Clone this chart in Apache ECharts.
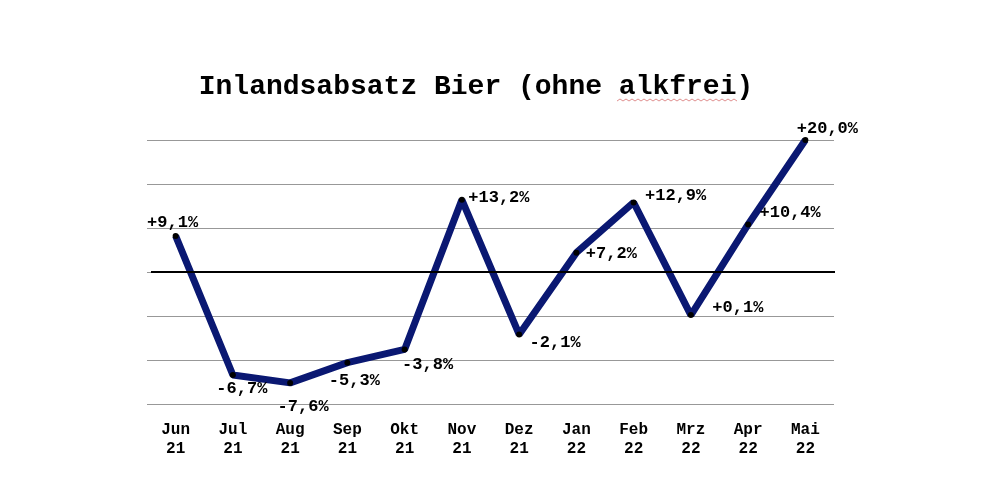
<!DOCTYPE html>
<html>
<head>
<meta charset="utf-8">
<script src="https://cdn.jsdelivr.net/npm/echarts@6/dist/echarts.min.js"></script>
<style>
html,body{margin:0;padding:0;background:#fff;}
#main{width:1000px;height:501px;}
</style>
</head>
<body>
<div id="main"></div>
<script>
// Monate und Veränderung zum Vorjahresmonat in %
var months = ['Jun\n21','Jul\n21','Aug\n21','Sep\n21','Okt\n21','Nov\n21','Dez\n21','Jan\n22','Feb\n22','Mrz\n22','Apr\n22','Mai\n22'];
var changes = [9.1, -6.7, -7.6, -5.3, -3.8, 13.2, -2.1, 7.2, 12.9, 0.1, 10.4, 20.0];
var labelTexts = ['+9,1%','-6,7%','-7,6%','-5,3%','-3,8%','+13,2%','-2,1%','+7,2%','+12,9%','+0,1%','+10,4%','+20,0%'];
// Versatz der Beschriftung (Pixel) relativ zum Punkt
var labelOffsets = [[-3,-13],[9,14],[13,24],[7,18],[23,15],[37,-2],[36,8],[35,1],[42,-7],[47,-7],[42,-12],[22,-11]];

var monoFont = '"Liberation Mono", "Courier New", monospace';

var seriesData = changes.map(function(v, i) {
    return {
        value: v,
        label: { offset: labelOffsets[i] }
    };
});

var myChart = echarts.init(document.getElementById('main'));
var option = {
    animation: false,
    backgroundColor: '#fff',
    title: {
        text: 'Inlandsabsatz Bier (ohne alkfrei)',
        left: 471,
        textAlign: 'center',
        top: 68,
        textStyle: {
            fontFamily: monoFont,
            fontWeight: 'bold',
            fontSize: 28,
            color: '#000'
        }
    },
    grid: { left: 147, right: 166, top: 140, bottom: 97 },
    xAxis: {
        type: 'category',
        data: months,
        boundaryGap: true,
        axisLine: { show: false },
        axisTick: { show: false },
        axisLabel: {
            margin: 16,
            fontFamily: monoFont,
            fontWeight: 'bold',
            fontSize: 16,
            lineHeight: 19,
            color: '#000'
        }
    },
    yAxis: {
        type: 'value',
        min: -10,
        max: 20,
        interval: 5,
        axisLine: { show: false },
        axisTick: { show: false },
        axisLabel: { show: false },
        splitLine: { lineStyle: { color: '#989898', width: 1.2 } }
    },
    series: [{
        type: 'line',
        data: seriesData,
        symbol: 'circle',
        symbolSize: 6,
        itemStyle: { color: '#000' },
        lineStyle: { color: '#0a1872', width: 7 },
        label: {
            show: true,
            position: 'inside',
            formatter: function(p) { return labelTexts[p.dataIndex]; },
            fontFamily: monoFont,
            fontWeight: 'bold',
            fontSize: 17,
            color: '#000'
        },
        markLine: {
            silent: true,
            symbol: 'none',
            label: { show: false },
            lineStyle: { color: '#000', width: 2, type: 'solid' },
            data: [[{ x: 151, yAxis: 5 }, { x: 835, yAxis: 5 }]]
        },
        z: 3
    }],
    graphic: [{
        type: 'polyline',
        shape: {
            points: [[617,101],[620,99],[623,101],[626,99],[629,101],[632,99],[635,101],[638,99],[641,101],[644,99],[647,101],[650,99],[653,101],[656,99],[659,101],[662,99],[665,101],[668,99],[671,101],[674,99],[677,101],[680,99],[683,101],[686,99],[689,101],[692,99],[695,101],[698,99],[701,101],[704,99],[707,101],[710,99],[713,101],[716,99],[719,101],[722,99],[725,101],[728,99],[731,101],[734,99],[737,101]]
        },
        style: { stroke: '#e09090', lineWidth: 1, fill: null }
    }]
};
myChart.setOption(option);
</script>
</body>
</html>
